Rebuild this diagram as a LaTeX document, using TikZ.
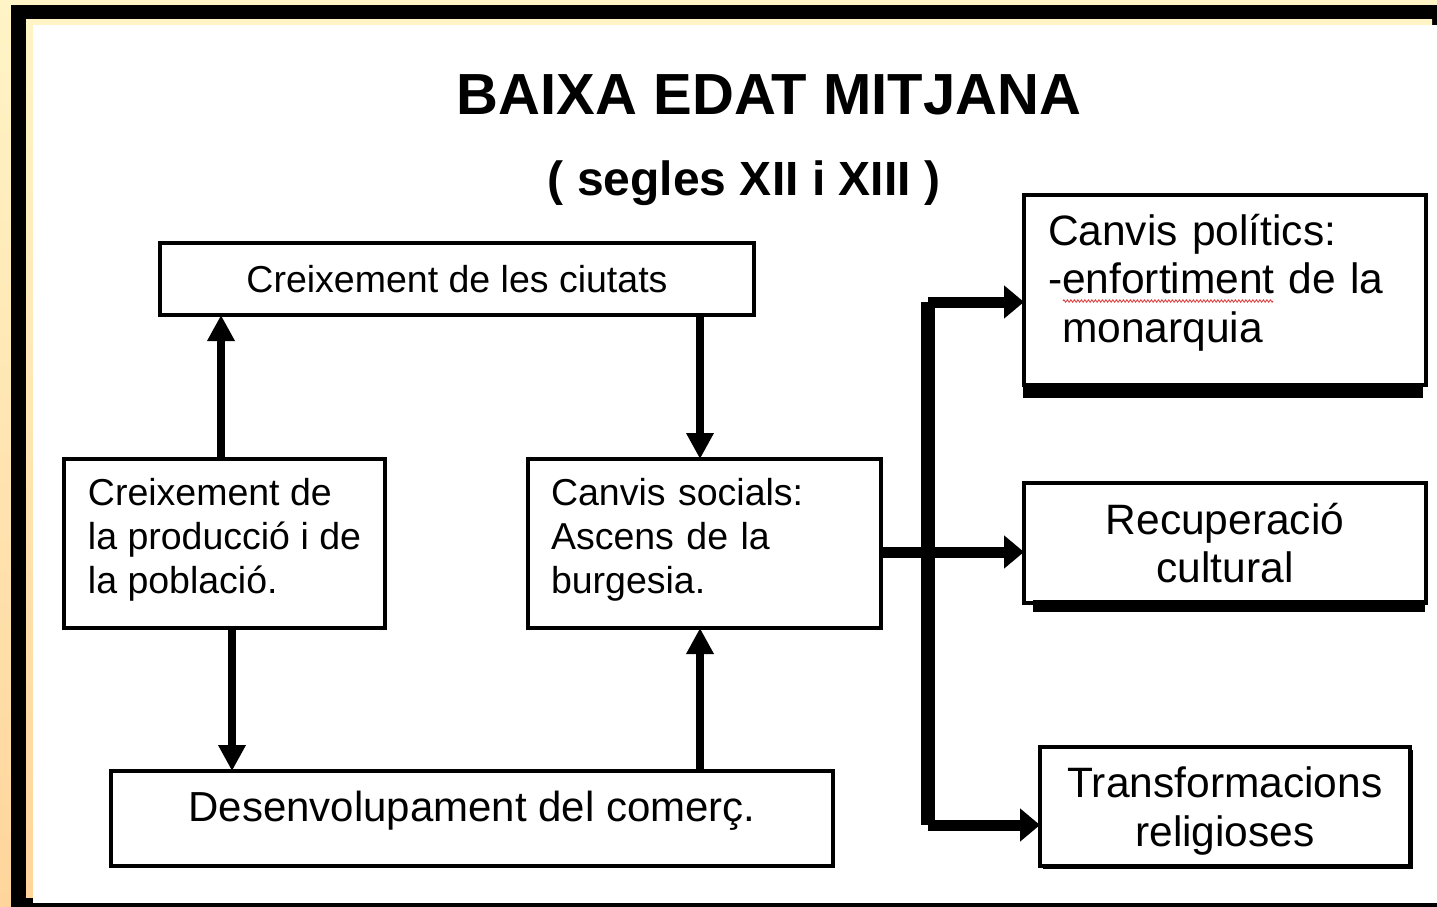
\documentclass[tikz,border=0pt]{standalone}
\usepackage{fontspec}
\setmainfont{Liberation Sans}
\usetikzlibrary{arrows.meta,decorations.pathmorphing}
\definecolor{bgtop}{RGB}{255,244,198}
\definecolor{bgbot}{RGB}{255,213,155}
\definecolor{squig}{RGB}{225,70,70}
\begin{document}
\begin{tikzpicture}[x=1pt,y=-1pt,
  box/.style={draw=black,line width=4pt,fill=white,inner sep=0pt,outer sep=0pt},
  lbox/.style={box,align=left,inner xsep=23pt},
  cbox/.style={box,align=center},
  midfont/.style={font={\fontsize{37.5}{44}\selectfont}},
  bigfont/.style={font={\fontsize{42.5}{48.5}\selectfont}},
  varrow/.style={line width=8pt,-{Triangle[width=26pt,length=26pt]}},
  harrow/.style={line width=11pt,-{Triangle[width=32pt,length=20pt]}},
  trunk/.style={line width=14pt,line cap=square}
]
\useasboundingbox (0,0) rectangle (1437,907);
% frame
\shade[top color=bgtop,bottom color=bgbot] (0,0) rectangle (1437,907);
\fill[black] (11,5) rectangle (1437,907);
\shade[top color=bgtop,bottom color=bgbot] (26,20) rectangle (1432,897);
\fill[white] (33,25) rectangle (1437,903);

% titles
\node[font={\fontsize{58}{64}\bfseries\selectfont}] (title) at (769,95) {BAIXA EDAT MITJANA};
\node[font={\fontsize{48}{54}\bfseries\selectfont}] (sub) at (744,183) {( segles XII i XIII )};

% shadow for box 7
\fill[black] (1043,750) rectangle (1413,869);

% boxes
\node[cbox,midfont,minimum width=594pt,minimum height=72pt] (b1) at (457,279) {Creixement de les ciutats};
\node[box,align=left,midfont,text depth=16pt,minimum width=321pt,minimum height=169pt] (b2) at (224.5,543.5)
  {Creixement de\\la producció i de\\la població.};
\node[lbox,midfont,text width=307pt,text depth=104pt,minimum height=169pt] (b3) at (704.5,543.5)
  {Canvis socials:\\Ascens de la\\burgesia.};
\node[cbox,font={\fontsize{42}{48}\selectfont},text depth=24pt,minimum width=722pt,minimum height=95pt] (b4) at (472,818.5)
  {Desenvolupament del comerç.};
\node[lbox,bigfont,inner xsep=24pt,text width=354pt,text depth=121pt,minimum height=190pt] (b5) at (1225,290)
  {Canvis polítics:\\-enfortiment de la\\\hspace*{14pt}monarquia};
\node[cbox,bigfont,minimum width=402pt,minimum height=120pt] (b6) at (1225,543)
  {Recuperació\\cultural};
\node[cbox,bigfont,text depth=0pt,minimum width=370pt,minimum height=119pt] (b7) at (1225,806.5)
  {Transformacions\\religioses};

% thick bottoms
\fill[black] ([xshift=-1pt,yshift=2pt]b5.south west) rectangle ([xshift=-3pt,yshift=-13pt]b5.south east);
\fill[black] ([xshift=9pt,yshift=3pt]b6.south west) rectangle ([xshift=-1pt,yshift=-9pt]b6.south east);

% spell-check squiggle
\draw[squig,line width=0.9pt,decorate,decoration={zigzag,segment length=3.5pt,amplitude=1.2pt}]
  (1063,301) -- (1273,301);

% connector anchors
\coordinate (xa) at (221,0);
\coordinate (xb) at (700,0);
\coordinate (xc) at (232,0);
\coordinate (ym) at (0,552);
\coordinate (jt) at (928,302);
\coordinate (jb) at (928,825);

% vertical arrows
\draw[varrow] (b2.north -| xa) -- (b1.south -| xa);
\draw[varrow] (b1.south -| xb) -- (b3.north -| xb);
\draw[varrow] (b2.south -| xc) -- (b4.north -| xc);
\draw[varrow] (b4.north -| xb) -- (b3.south -| xb);

% right side
\draw[trunk] (jt) -- (jb);
\draw[harrow] (b3.east |- ym) -- (b6.west |- ym);
\draw[harrow] (jt) -- (jt -| b5.west);
\draw[harrow] (jb) -- (jb -| b7.west);
\end{tikzpicture}
\end{document}
